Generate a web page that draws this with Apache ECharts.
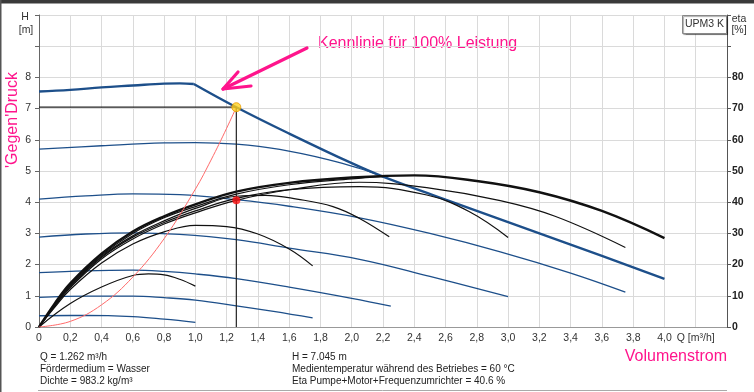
<!DOCTYPE html>
<html><head><meta charset="utf-8">
<script src="https://cdn.jsdelivr.net/npm/echarts@6/dist/echarts.min.js"></script>
<style>html,body{margin:0;padding:0;background:#fff}#c{width:754px;height:392px}</style>
</head><body><div id="c"></div>
<script>
// ---- data (Q in m³/h, H in m, eta in %) ----
const maxRise = [[0,7.55],[0.2,7.60],[0.4,7.68],[0.6,7.74],[0.8,7.80],[0.9,7.81],[0.99,7.79]];
const maxFall = [[0.99,7.79],[1.262,7.045],[1.6,6.2],[2.0,5.25],[2.2,4.82],[2.6,4.08],[3.0,3.36],[3.4,2.64],[3.8,1.91],[4.0,1.54]];
const curve57 = [[0,5.70],[0.4,5.81],[0.8,5.9],[1.0,5.91],[1.262,5.86],[1.54,5.69],[1.86,5.35],[2.05,5.08],[2.2,4.82]];
const curve41 = [[0,4.10],[0.3,4.2],[0.6,4.27],[0.9,4.24],[1.262,4.08],[1.6,3.87],[2.05,3.5],[2.5,3.0],[2.95,2.41],[3.4,1.73],[3.75,1.12]];
const curve29 = [[0,2.88],[0.3,2.98],[0.6,3.02],[0.9,2.97],[1.262,2.8],[1.6,2.53],[2.05,2.17],[2.5,1.62],[3.0,0.97]];
const curve175 = [[0,1.74],[0.3,1.8],[0.6,1.82],[0.8,1.78],[1.0,1.70],[1.262,1.55],[1.6,1.28],[2.0,0.92],[2.25,0.67]];
const curve095 = [[0,0.95],[0.3,0.99],[0.6,0.99],[0.8,0.94],[1.0,0.86],[1.262,0.68],[1.5,0.5],[1.75,0.29]];
const curve037 = [[0,0.36],[0.3,0.37],[0.6,0.33],[0.8,0.25],[1.0,0.15]];

const etaMax = [[0,0],[0.1,7.5],[0.2,14],[0.4,23.5],[0.6,30.6],[0.8,35.5],[1.0,39.3],[1.262,43.4],[1.6,46.2],[2.0,47.9],[2.4,48.6],[2.8,46.8],[3.2,43.2],[3.6,37.2],[4.0,28.5]];
const eta57 = [[0,0],[0.1,7.2],[0.2,13.6],[0.4,23],[0.6,30],[0.8,35],[1.0,38.6],[1.262,42.6],[1.6,45.6],[2.0,47.5],[2.2,48.2]];
const eta41 = [[0,0],[0.1,6.6],[0.2,12.6],[0.4,21.8],[0.6,28.2],[0.8,33.0],[1.0,36.6],[1.262,40.6],[1.6,44],[2.05,46.4],[2.5,44.5],[2.95,40.5],[3.3,35.5],[3.75,25.5]];
const eta29 = [[0,0],[0.1,6.8],[0.2,13],[0.4,22.3],[0.6,28.8],[0.8,33.5],[1.0,37.2],[1.262,41.2],[1.6,44],[2.05,45.0],[2.48,42.3],[2.75,37],[3.0,28.7]];
const eta175 = [[0,0],[0.1,7],[0.2,13.3],[0.4,22.6],[0.6,29.2],[0.8,34],[1.0,38],[1.262,41.9],[1.45,42.2],[1.65,41],[1.88,38.6],[2.05,34.8],[2.24,28.9]];
const eta095 = [[0,0],[0.1,6.3],[0.2,12],[0.4,20.5],[0.6,26.6],[0.8,30.5],[1.0,32.6],[1.2,32.2],[1.4,29.8],[1.6,25],[1.75,19.6]];
const eta037 = [[0,0],[0.2,7.5],[0.4,12.8],[0.6,16.5],[0.7,17],[0.8,16.7],[0.9,15.3],[1.0,13.1]];

const sysCurve = [[0,0],[0.2,0.18],[0.4,0.71],[0.6,1.6],[0.8,2.83],[1.0,4.42],[1.1,5.35],[1.2,6.37],[1.262,7.045]];

const opQ = 1.262, opH = 7.045, opEta = 40.6;
const hLabelsMax = 8, etaLabelsMax = 80;

const FONT = 'Liberation Sans, Arial, sans-serif';
const BLUE = '#1d4f8a', BLACK = '#111', PINK = '#ff148c';

function bl(name, data, w) {
  return {name, type:'line', data, yAxisIndex:0, smooth:0.4, showSymbol:false, symbol:'none',
    lineStyle:{color:BLUE, width:w||1.3}, z:2, silent:true};
}
function el(name, data, w) {
  return {name, type:'line', data, yAxisIndex:1, smooth:0.4, showSymbol:false, symbol:'none',
    lineStyle:{color:BLACK, width:w||1.2}, z:3, silent:true};
}

const chart = echarts.init(document.getElementById('c'), null, {renderer:'canvas'});
const txt = (x,y,text,opt) => Object.assign({type:'text', x, y, silent:true,
  style:Object.assign({text, fill:'#222', fontSize:10, fontFamily:FONT, textAlign:'left', textVerticalAlign:'middle'}, opt||{})});

chart.setOption({
  animation:false,
  backgroundColor:'#fff',
  grid:{left:39, right:27, top:15, bottom:65, containLabel:false, outerBoundsMode:'none'},
  xAxis:{type:'value', min:0, max:4.4, interval:0.2,
    axisLine:{show:true, onZero:false, lineStyle:{color:'#999'}},
    axisTick:{show:false},
    axisLabel:{fontSize:10.5, color:'#333', fontFamily:FONT, margin:6,
      formatter:v=>{ if (Math.abs(v-4.2)<1e-6) return 'Q [m³/h]'; if (v>4.3) return ''; return v===0?'0':v.toFixed(1).replace('.',','); }},
    splitLine:{show:true, lineStyle:{color:'#dadada'}}},
  yAxis:[
    {type:'value', min:0, max:10, interval:1, position:'left',
      axisLine:{show:true, lineStyle:{color:'#666'}},
      axisTick:{show:true, length:4, lineStyle:{color:'#666'}},
      axisLabel:{fontSize:10.5, color:'#333', fontFamily:FONT, margin:8, formatter:v=>v<=hLabelsMax?String(v):''},
      splitLine:{show:true, lineStyle:{color:'#dadada'}}},
    {type:'value', min:0, max:100, interval:10, position:'right',
      axisLine:{show:true, lineStyle:{color:'#555'}},
      axisTick:{show:true, length:4, lineStyle:{color:'#555'}},
      axisLabel:{fontSize:10.5, color:'#222', fontWeight:'bold', fontFamily:FONT, margin:5, formatter:v=>v<=etaLabelsMax?String(v):''},
      splitLine:{show:false}}
  ],
  series:[
    bl('max1', maxRise, 2.4), bl('max2', maxFall, 2.4),
    bl('c57', curve57), bl('c41', curve41), bl('c29', curve29), bl('c175', curve175), bl('c095', curve095), bl('c037', curve037),
    el('eMax', etaMax, 2.4), el('e57', eta57), el('e41', eta41), el('e29', eta29), el('e175', eta175), el('e095', eta095), el('e037', eta037),
    {type:'line', data:sysCurve, smooth:0.4, showSymbol:false, symbol:'none', lineStyle:{color:'#ff6a6a', width:1}, z:4, silent:true},
    {type:'line', data:[[0,opH],[opQ,opH]], showSymbol:false, symbol:'none', lineStyle:{color:'#222', width:1.2}, z:5, silent:true},
    {type:'line', data:[[opQ,0],[opQ,opH]], showSymbol:false, symbol:'none', lineStyle:{color:'#222', width:1.2}, z:5, silent:true},
    {type:'scatter', data:[[opQ,opH]], symbolSize:9, itemStyle:{color:'#ffd21f', borderColor:'#e89a00', borderWidth:1}, z:6, silent:true},
    {type:'scatter', yAxisIndex:1, data:[[opQ,opEta]], symbolSize:8, itemStyle:{color:'#ff1010'}, z:6, silent:true}
  ],
  graphic:[
    {type:'rect', shape:{x:0,y:0,width:754,height:3.5}, style:{fill:'#3a3a3a'}, silent:true},
    {type:'rect', shape:{x:0,y:0,width:1.5,height:392}, style:{fill:'#555'}, silent:true},
    {type:'line', shape:{x1:38,y1:390.5,x2:727,y2:390.5}, style:{stroke:'#aaa', lineWidth:1}, silent:true},
    txt(25,17,'H',{textAlign:'center', fontSize:10.5, fill:'#333'}),
    txt(26,30,'[m]',{textAlign:'center', fontSize:10.5, fill:'#333'}),
    txt(739,19,'eta',{textAlign:'center', fontSize:10.5, fill:'#333'}),
    txt(739,30,'[%]',{textAlign:'center', fontSize:10.5, fill:'#333'}),
    {type:'rect', shape:{x:682.5,y:15.5,width:44,height:18}, style:{fill:'#fff', stroke:'#888', lineWidth:1, shadowColor:'rgba(0,0,0,0.35)', shadowOffsetX:1, shadowOffsetY:1, shadowBlur:1}, z:10, silent:true},
    Object.assign(txt(704.5,24.5,'UPM3 K',{textAlign:'center', fontSize:10.5, fill:'#333'}),{z:11}),
    {type:'text', x:12.5, y:120, rotation:Math.PI/2, silent:true,
      style:{text:"'Gegen'Druck", fill:PINK, fontSize:16, fontFamily:FONT, textAlign:'center', textVerticalAlign:'middle'}},
    txt(318,44,'Kennlinie für 100% Leistung',{fill:PINK, fontSize:16}),
    {type:'polyline', shape:{points:[[307,48],[223,89]]}, style:{stroke:PINK, lineWidth:3.2, lineCap:'round', fill:null}, z:10, silent:true},
    {type:'polyline', shape:{points:[[238,72],[223,89],[251,86]]}, style:{stroke:PINK, lineWidth:3.2, lineCap:'round', lineJoin:'round', fill:null}, z:10, silent:true},
    txt(727,356.5,'Volumenstrom',{fill:PINK, fontSize:16, textAlign:'right'}),
    txt(40,357,'Q = 1.262 m³/h'),
    txt(40,369,'Fördermedium = Wasser'),
    txt(40,381,'Dichte = 983.2 kg/m³'),
    txt(292,357,'H = 7.045 m'),
    txt(292,369,'Medientemperatur während des Betriebes = 60 °C'),
    txt(292,381,'Eta Pumpe+Motor+Frequenzumrichter = 40.6 %')
  ]
});
</script></body></html>
